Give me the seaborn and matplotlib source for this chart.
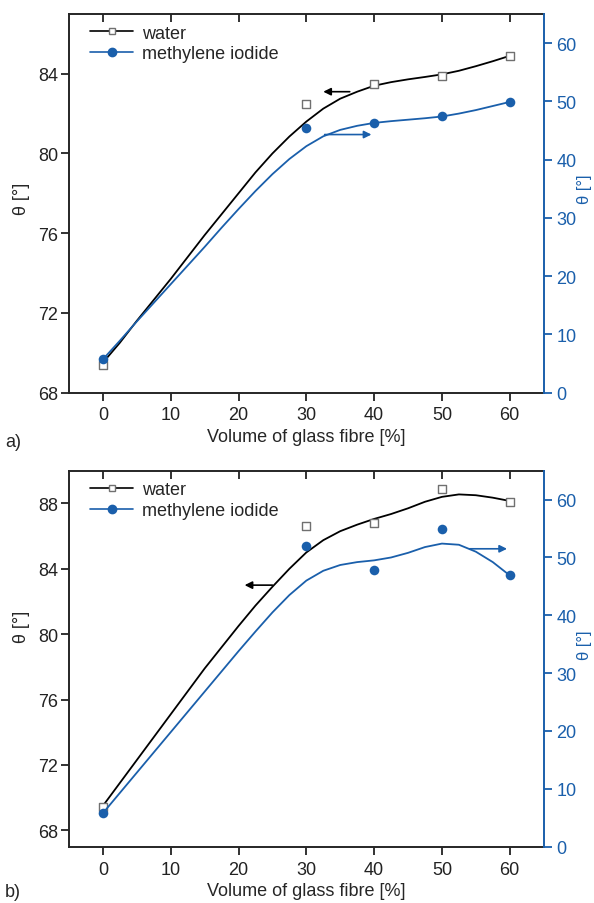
import matplotlib
matplotlib.use("Agg")
import matplotlib.pyplot as plt
import seaborn as sns
from matplotlib.lines import Line2D

# measured contact angles, panel a) and b)
fibre = [0, 30, 40, 50, 60]
water_a = [69.4, 82.5, 83.5, 83.9, 84.9]
iodide_a = [5.7, 45.5, 46.3, 47.4, 49.9]
water_b = [69.4, 86.6, 86.8, 88.9, 88.1]
iodide_b = [5.8, 51.9, 47.8, 55.0, 46.9]

# smoothed fit curves, every 2.5 %
fit_x = [0, 2.5, 5, 7.5, 10, 12.5, 15, 17.5, 20, 22.5, 25, 27.5, 30,
         32.5, 35, 37.5, 40, 42.5, 45, 47.5, 50, 52.5, 55, 57.5, 60]
water_fit_a = [69.5, 70.5, 71.6, 72.65, 73.7, 74.8, 75.9, 76.95, 78.0,
               79.05, 80.0, 80.85, 81.6, 82.25, 82.75, 83.1, 83.4, 83.58,
               83.72, 83.84, 83.97, 84.15, 84.38, 84.63, 84.9]
iodide_fit_a = [5.7, 8.9, 12.2, 15.4, 18.6, 21.8, 25.0, 28.3, 31.5, 34.6,
                37.5, 40.1, 42.3, 44.0, 45.1, 45.8, 46.3, 46.6, 46.85, 47.1,
                47.4, 47.9, 48.5, 49.2, 49.9]
water_fit_b = [69.5, 70.9, 72.3, 73.7, 75.1, 76.5, 77.9, 79.2, 80.5, 81.75,
               82.9, 84.0, 85.0, 85.75, 86.3, 86.7, 87.05, 87.35, 87.7, 88.1,
               88.4, 88.55, 88.5, 88.35, 88.15]
iodide_fit_b = [5.8, 9.3, 12.8, 16.3, 19.8, 23.3, 26.8, 30.3, 33.8, 37.2,
                40.5, 43.5, 46.0, 47.7, 48.7, 49.2, 49.5, 50.0, 50.8, 51.8,
                52.4, 52.2, 51.0, 49.2, 46.9]

xticks = [0, 10, 20, 30, 40, 50, 60]
right_ticks = [0, 10, 20, 30, 40, 50, 60]

BLUE = "#1a5fab"
GREY = "#707070"
DARK = "#222222"

sns.set_style("ticks")
plt.rcParams["font.family"] = ["Liberation Sans", "DejaVu Sans"]
plt.rcParams["font.size"] = 13

fig = plt.figure(figsize=(5.94, 9.04), dpi=100)


def draw_panel(rect, water, iodide, water_fit, iodide_fit, ylim, yticks,
               black_arrow, blue_arrow, ylab_y, rlab_y):
    ax = fig.add_axes(rect)
    ax2 = ax.twinx()

    # left axis: water
    sns.lineplot(x=fit_x, y=water_fit, ax=ax, color="black", lw=1.3)
    sns.scatterplot(x=fibre, y=water, ax=ax, marker="s", s=36, color="white",
                    edgecolor=GREY, linewidth=1.0, zorder=3)
    # right axis: methylene iodide
    sns.lineplot(x=fit_x, y=iodide_fit, ax=ax2, color=BLUE, lw=1.3)
    sns.scatterplot(x=fibre, y=iodide, ax=ax2, marker="o", s=48, color=BLUE,
                    edgecolor=BLUE, linewidth=0, zorder=3)

    # arrows pointing to the axis each curve belongs to
    ax.annotate("", xy=black_arrow[1], xytext=black_arrow[0],
                arrowprops=dict(arrowstyle="-|>", color="black", lw=1.2,
                                mutation_scale=11, shrinkA=0, shrinkB=0))
    ax2.annotate("", xy=blue_arrow[1], xytext=blue_arrow[0],
                 arrowprops=dict(arrowstyle="-|>", color=BLUE, lw=1.2,
                                 mutation_scale=11, shrinkA=0, shrinkB=0))

    ax.set_xlim(-5, 65)
    ax.set_ylim(*ylim)
    ax.set_xticks(xticks)
    ax.set_yticks(yticks)
    ax2.set_ylim(0, 65)
    ax2.set_yticks(right_ticks)

    for sp in ax.spines.values():
        sp.set_linewidth(1.4)
    ax.spines["right"].set_visible(False)
    for name in ["left", "top", "bottom"]:
        ax2.spines[name].set_visible(False)
    ax2.spines["right"].set_color(BLUE)
    ax2.spines["right"].set_linewidth(1.4)

    ax.tick_params(axis="x", direction="out", length=6, width=1.3, pad=4,
                   labelsize=13, colors=DARK)
    ax.tick_params(axis="y", direction="out", length=6, width=1.3, pad=2,
                   labelsize=13, colors=DARK)
    ax2.tick_params(axis="y", direction="out", length=6, width=1.3, pad=3,
                    labelsize=13, colors=BLUE)

    # short inward ticks hanging from the top spine
    ax.vlines(xticks, 0.978, 1.0, transform=ax.get_xaxis_transform(),
              colors=DARK, lw=1.3, clip_on=False, zorder=5)

    ax.set_xlabel("Volume of glass fibre [%]", fontsize=13, labelpad=3)
    ax.set_ylabel("θ [°]", fontsize=13)
    ax.yaxis.set_label_coords(-0.082, ylab_y)
    ax2.set_ylabel("θ [°]", fontsize=12, color=BLUE, rotation=90)
    ax2.yaxis.set_label_coords(1.07, rlab_y)

    handles = [
        Line2D([], [], color="black", lw=1.2, marker="s", markersize=5,
               markerfacecolor="white", markeredgecolor=GREY),
        Line2D([], [], color=BLUE, lw=1.2, marker="o", markersize=6,
               markerfacecolor=BLUE, markeredgecolor=BLUE),
    ]
    ax2.legend(handles, ["water", "methylene iodide"], loc="upper left",
               bbox_to_anchor=(0.044, 0.972), frameon=False, fontsize=13,
               handlelength=2.4, handletextpad=0.5, labelspacing=0.2,
               borderpad=0, borderaxespad=0)
    return ax


draw_panel([0.1162, 0.5647, 0.799, 0.4187], water_a, iodide_a,
           water_fit_a, iodide_fit_a, (68, 87), [68, 72, 76, 80, 84],
           ((36.4, 83.1), (32.5, 83.1)), ((32.7, 44.3), (39.6, 44.3)),
           0.514, 0.54)
draw_panel([0.1162, 0.0623, 0.799, 0.4159], water_b, iodide_b,
           water_fit_b, iodide_fit_b, (67, 90), [68, 72, 76, 80, 84, 88],
           ((25.0, 83.0), (20.9, 83.0)), ((54.1, 51.5), (59.6, 51.5)),
           0.587, 0.539)

fig.text(5 / 594, 1 - 443 / 904, "a)", fontsize=13, va="center", ha="left")
fig.text(5 / 594, 1 - 893 / 904, "b)", fontsize=13, va="center", ha="left")

fig.savefig("out.png", dpi=100)
